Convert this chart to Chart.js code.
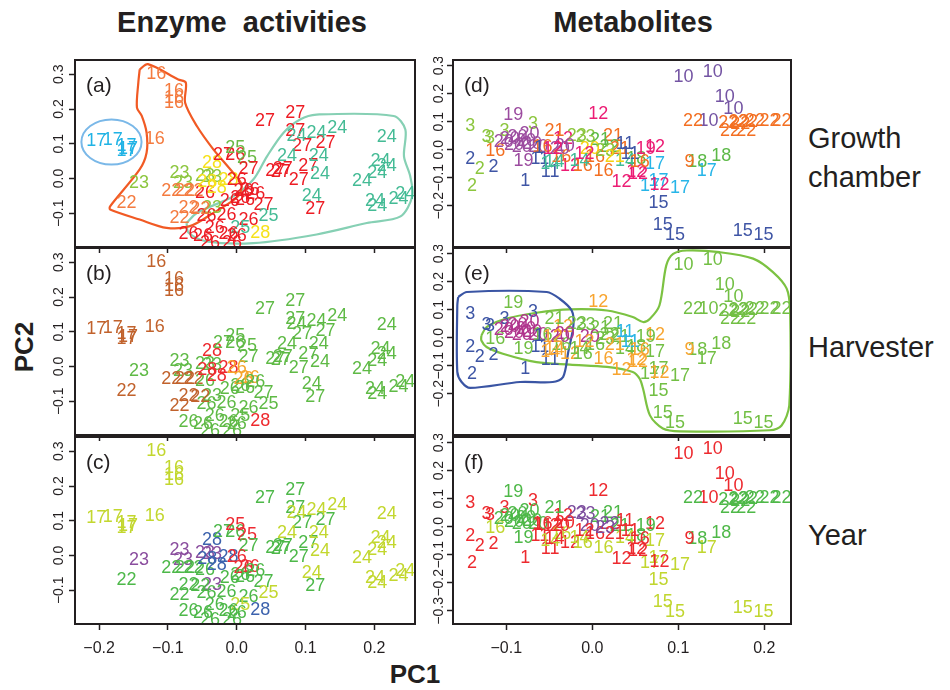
<!DOCTYPE html>
<html>
<head>
<meta charset="utf-8">
<script src="https://cdn.jsdelivr.net/npm/chart.js@4.4.1/dist/chart.umd.min.js"></script>
<style>
  body { margin: 0; width: 950px; height: 690px; background: #fff; position: relative; overflow: hidden;
         font-family: 'Liberation Sans', Arial, sans-serif; color: #231f20; }
  canvas { position: absolute; }
  .lbl { position: absolute; white-space: pre; line-height: 1; }
  .title { font-weight: bold; font-size: 29px; width: 400px; text-align: center; }
  .side { font-size: 29px; left: 808px; }
  .axt { font-weight: bold; font-size: 26px; }
</style>
</head>
<body>
<div class="lbl title" style="left:42px; top:8px;">Enzyme  activities</div>
<div class="lbl title" style="left:433px; top:8px;">Metabolites</div>
<div class="lbl side" style="top:124px;">Growth</div>
<div class="lbl side" style="top:163px;">chamber</div>
<div class="lbl side" style="top:333px;">Harvester</div>
<div class="lbl side" style="top:521px;">Year</div>
<div class="lbl axt" style="left:24px; top:347px; transform: translate(-50%,-50%) rotate(-90deg);">PC2</div>
<div class="lbl axt" style="left:415px; top:674px; transform: translate(-50%,-50%);">PC1</div>

<script>
// ---- axis ticks ----
const enzXTicks = [-0.2, -0.1, 0.0, 0.1, 0.2];
const enzYTicks = [-0.1, 0.0, 0.1, 0.2, 0.3];
const metXTicks = [-0.1, 0.0, 0.1, 0.2];
const metYTicks = [-0.2, -0.1, 0.0, 0.1, 0.2, 0.3];
const metYTicksLow = [-0.3, -0.2, -0.1, 0.0, 0.1, 0.2, 0.3];

// ---- enzyme activities PCA scores (same points in a, b, c) ----
const enzLab = ['16','16','16','16','16','17','17','17','17','17',
                '23','22','23','23','23','23','22','22','22','26',
                '28','28','28','28','27','26','25','25','27','27',
                '27','27','26','26','26','27','22','22','23','26',
                '26','26','25','26','25','26','26','26','26','28',
                '26','26','27','27','27','27','27','27','27','27',
                '24','24','24','24','24','24','24','24','24','24',
                '24','24','24','24','24','24','26','26','26','26','22'];
const enzX = [-0.117,-0.091,-0.091,-0.091,-0.119,-0.204,-0.180,-0.160,-0.160,-0.158,
              -0.142,-0.160,-0.083,-0.078,-0.046,-0.036,-0.095,-0.075,-0.063,-0.046,
              -0.036,-0.029,-0.012,-0.043,-0.020,-0.002,0.015,-0.002,0.017,0.056,
              0.067,0.064,0.019,0.005,-0.010,0.039,-0.070,-0.083,-0.036,-0.044,
              -0.015,0.017,0.046,-0.032,0.005,-0.070,-0.049,-0.012,0.000,0.034,
              -0.039,-0.007,0.041,0.085,0.085,0.095,0.129,0.104,0.090,0.114,
              0.146,0.116,0.087,0.073,0.119,0.121,0.109,0.218,0.209,0.218,
              0.204,0.182,0.201,0.204,0.235,0.245,0.000,0.010,0.012,0.027,-0.053];
const enzY = [0.300,0.252,0.231,0.216,0.114,0.107,0.112,0.093,0.079,0.086,
              -0.012,-0.070,0.016,-0.012,0.007,0.003,-0.037,-0.037,-0.037,-0.041,
              0.045,-0.027,-0.003,-0.009,0.069,0.069,0.060,0.088,0.026,0.021,
              0.026,0.020,-0.032,-0.056,-0.065,-0.075,-0.084,-0.113,-0.084,-0.109,
              -0.104,-0.118,-0.109,-0.142,-0.142,-0.161,-0.166,-0.161,-0.166,-0.156,
              -0.185,-0.185,0.165,0.189,0.136,0.093,0.103,0.035,-0.003,-0.089,
              0.146,0.132,0.122,0.064,0.064,0.012,-0.051,0.120,0.050,0.035,
              0.016,-0.008,-0.065,-0.080,-0.060,-0.046,-0.003,-0.037,-0.061,-0.046,-0.089];

// colour of each label in panels a, b, c
const enzColA = {'16':'#f47b3f','17':'#20b3e5','22':'#f47b3f','23':'#8cc63e','24':'#44bb95',
                 '25':'#44bb95','26':'#ed1c24','27':'#ed1c24','28':'#f6e11a'};
const enzColB = {'16':'#c1622c','17':'#c1622c','22':'#c1622c','23':'#5fba46','24':'#5fba46',
                 '25':'#5fba46','26':'#5fba46','27':'#5fba46','28':'#ee2a2e'};
const enzColC = {'16':'#c3d72f','17':'#c3d72f','22':'#4db849','23':'#8a4d9e','24':'#c3d72f',
                 '25':'#c3d72f','26':'#4db849','27':'#4db849','28':'#3c62ad'};
// samples that break the label rule
const enzExA = {26:'#6ab945', 27:'#6ab945'};
const enzExB = {32:'#f7a42b', 76:'#f7a42b', 77:'#f7a42b'};
const enzExC = {26:'#ee2a32', 27:'#ee2a32', 32:'#ee2a32', 76:'#ee2a32', 77:'#ee2a32'};

// hulls in panel (a)
const hullA16X = [-0.141,-0.129,-0.085,-0.074,-0.075,-0.058,-0.034,-0.005,0.007,0.002,-0.034,-0.068,
                  -0.102,-0.141,-0.184,-0.184,-0.141,-0.131,-0.131,-0.138,-0.145,-0.143,-0.141];
const hullA16Y = [0.314,0.329,0.285,0.276,0.218,0.151,0.084,0.016,-0.017,-0.051,-0.099,-0.137,
                  -0.142,-0.118,-0.089,-0.080,0.026,0.074,0.132,0.180,0.204,0.276,0.314];
const hullA24X = [-0.073,-0.058,-0.005,0.024,0.044,0.068,0.092,0.116,0.228,0.245,0.243,0.252,
                  0.255,0.238,0.189,0.116,0.024,-0.044,-0.070,-0.073];
const hullA24Y = [-0.128,-0.099,-0.051,-0.003,0.064,0.132,0.170,0.184,0.180,0.141,0.064,0.007,
                  -0.051,-0.109,-0.128,-0.161,-0.186,-0.181,-0.156,-0.128];
const ellA17 = [-0.182, 0.105, 0.0437, 0.065]; // centre x, centre y, radius x, radius y

// ---- metabolite PCA scores (same points in d, e, f) ----
const metLab = ['10','10','10','10','10','22','22','22','22','22',
                '22','22','22','22','22','15','15','15','15','15',
                '17','17','17','17','17','18','18','9','12','12',
                '12','12','12','12','12','12','3','19','3','3',
                '3','3','16','2','2','2','2','1','11','11',
                '19','20','20','20','20','20','20','20','20','20',
                '21','21','23','23','20','14','16','16','16','18',
                '21','22','21','11','14','16','19','20','23','21',
                '11','16','14','12','20','16','12','14','1'];
const metX = [0.106,0.140,0.154,0.164,0.135,0.117,0.158,0.170,0.181,0.189,
              0.160,0.179,0.206,0.220,0.172,0.077,0.082,0.096,0.175,0.199,
              0.133,0.102,0.067,0.077,0.073,0.150,0.122,0.113,0.007,0.034,
              0.051,0.078,0.073,0.053,-0.026,-0.034,-0.142,-0.092,-0.069,-0.123,
              -0.119,-0.102,-0.113,-0.142,-0.131,-0.115,-0.140,-0.078,-0.049,-0.061,
              -0.080,-0.096,-0.087,-0.077,-0.091,-0.070,-0.103,-0.082,-0.063,-0.073,
              -0.044,0.024,-0.018,-0.008,-0.032,-0.049,-0.036,-0.011,0.013,0.051,
              0.009,0.020,0.032,0.038,0.038,0.003,0.062,-0.003,0.015,0.026,
              0.044,0.055,-0.015,-0.009,-0.038,-0.058,-0.046,-0.044,-0.062];
const metY = [0.260,0.278,0.188,0.146,0.104,0.101,0.096,0.099,0.099,0.101,
              0.065,0.065,0.104,0.101,0.092,-0.189,-0.267,-0.303,-0.291,-0.303,
              -0.076,-0.135,-0.129,-0.112,-0.051,-0.022,-0.045,-0.045,0.128,-0.117,
              -0.081,-0.127,0.009,-0.087,-0.058,0.038,0.086,0.122,0.092,0.045,
              0.042,0.068,-0.004,-0.033,-0.069,-0.063,-0.129,-0.112,-0.081,-0.033,
              -0.040,0.038,0.046,0.031,0.017,0.020,0.028,0.010,0.010,0.056,
              0.068,0.050,0.050,0.046,0.014,-0.051,-0.027,-0.058,-0.076,-0.033,
              0.035,0.010,0.003,0.020,-0.041,-0.026,0.003,0.003,-0.005,-0.026,
              -0.015,-0.044,-0.041,-0.015,0.003,0.009,0.003,-0.044,0.005];

const metColD = {'1':'#3f55a5','2':'#3f55a5','3':'#8cc63e','9':'#f36f21','10':'#7454a3','11':'#3f55a5',
                 '12':'#ec1c74','14':'#40bc97','15':'#3f55a5','16':'#f36f21','17':'#27b5e8','18':'#5cb947',
                 '19':'#9b4b9f','20':'#9b4b9f','21':'#f36f21','22':'#f36f21','23':'#8cc63e'};
const metColE = {'1':'#3d55a5','2':'#3d55a5','3':'#3d55a5','9':'#f8a530','10':'#72bf44','11':'#3d55a5',
                 '12':'#f8a530','14':'#72bf44','15':'#72bf44','16':'#72bf44','17':'#72bf44','18':'#72bf44',
                 '19':'#72bf44','20':'#b0358d','21':'#72bf44','22':'#72bf44','23':'#72bf44'};
const metColF = {'1':'#ed2a2f','2':'#ed2a2f','3':'#ed2a2f','9':'#ed2a2f','10':'#ed2a2f','11':'#ed2a2f',
                 '12':'#ed2a2f','14':'#c1d62f','15':'#c1d62f','16':'#c1d62f','17':'#c1d62f','18':'#4eb848',
                 '19':'#4eb848','20':'#4eb848','21':'#4eb848','22':'#4eb848','23':'#7c4d9e'};
const metExD = {44:'#8cc63e', 46:'#8cc63e', 70:'#5cb947', 71:'#5cb947', 76:'#ec1c74', 77:'#f5d20f', 79:'#f5d20f'};
const metExE = {65:'#f8a530', 68:'#f8a530', 73:'#2bb5e5', 79:'#f8a530', 80:'#2bb5e5', 81:'#f8a530', 86:'#f8a530', 87:'#f8a530'};
const metExF = {64:'#ed2a2f', 71:'#7c4d9e', 75:'#ed2a2f', 77:'#7c4d9e', 79:'#ed2a2f', 81:'#ed2a2f',
                83:'#ed2a2f', 84:'#ed2a2f', 85:'#ed2a2f', 87:'#ed2a2f'};

// hulls in panel (e)
const hullE1X = [-0.156,-0.146,-0.053,-0.038,-0.024,-0.022,-0.028,-0.034,-0.046,-0.084,-0.142,-0.152,-0.157,-0.157,-0.156];
const hullE1Y = [0.145,0.163,0.163,0.139,0.097,0.044,-0.051,-0.140,-0.158,-0.158,-0.179,-0.158,-0.122,0.115,0.145];
const hullE2X = [-0.129,-0.123,-0.100,-0.065,-0.026,0.017,0.047,0.059,0.067,0.078,0.086,0.094,0.110,0.148,0.187,
                 0.210,0.226,0.230,0.229,0.220,0.206,0.102,0.082,0.067,0.059,0.055,0.047,0.017,-0.026,-0.065,
                 -0.104,-0.123,-0.129,-0.129];
const hullE2Y = [0.008,0.038,0.068,0.089,0.101,0.097,0.074,0.056,0.068,0.115,0.258,0.299,0.311,0.305,0.282,
                 0.234,0.175,0.092,-0.241,-0.313,-0.330,-0.334,-0.324,-0.277,-0.182,-0.146,-0.122,-0.104,-0.096,-0.087,
                 -0.057,-0.033,-0.010,0.008];

// ---- drawing helpers ----
const INK = '#231f20';
const tickFont = "'Liberation Sans', Arial, sans-serif";
const fmt = v => (v < -1e-9 ? '\u2212' : '') + Math.abs(v).toFixed(1);

function colours(labels, map, extra) {
    return labels.map((l, i) => extra[i] || map[l]);
}
function pairs(xs, ys) {
    return xs.map((x, i) => ({ x: x, y: ys[i] }));
}

// draws the sample numbers, ellipses, frame, panel tag and rotated y tick labels
const panelDecor = {
    id: 'panelDecor',
    afterDatasetsDraw(chart, args, opts) {
        const ctx = chart.ctx, a = chart.chartArea;
        const sx = chart.scales.x, sy = chart.scales.y;
        ctx.save();
        ctx.beginPath();
        ctx.rect(a.left, a.top, a.right - a.left, a.bottom - a.top);
        ctx.clip();
        (opts.ellipses || []).forEach(e => {
            const cx = sx.getPixelForValue(e.v[0]), cy = sy.getPixelForValue(e.v[1]);
            const rx = Math.abs(sx.getPixelForValue(e.v[0] + e.v[2]) - cx);
            const ry = Math.abs(sy.getPixelForValue(e.v[1] + e.v[3]) - cy);
            ctx.beginPath();
            ctx.ellipse(cx, cy, rx, ry, 0, 0, Math.PI * 2);
            ctx.strokeStyle = e.color;
            ctx.lineWidth = 2;
            ctx.stroke();
        });
        ctx.font = "18px 'Liberation Sans', Arial, sans-serif";
        ctx.textAlign = 'center';
        ctx.textBaseline = 'middle';
        chart.data.datasets.forEach((ds, di) => {
            if (!ds.texts) return;
            chart.getDatasetMeta(di).data.forEach((el, i) => {
                ctx.fillStyle = ds.textColors[i];
                ctx.fillText(ds.texts[i], el.x, el.y);
            });
        });
        ctx.restore();
    },
    afterDraw(chart, args, opts) {
        const ctx = chart.ctx, a = chart.chartArea, sy = chart.scales.y;
        ctx.save();
        ctx.strokeStyle = INK;
        ctx.lineWidth = 2;
        ctx.strokeRect(a.left, a.top, a.right - a.left, a.bottom - a.top);
        ctx.fillStyle = INK;
        ctx.font = "21px 'Liberation Sans', Arial, sans-serif";
        ctx.textAlign = 'left';
        ctx.textBaseline = 'middle';
        ctx.fillText(opts.tag, a.left + 11, a.top + 26);
        ctx.font = '14px ' + tickFont;
        ctx.textAlign = 'center';
        sy.ticks.forEach(t => {
            const py = sy.getPixelForValue(t.value);
            ctx.save();
            ctx.translate(a.left - opts.yLabelGap, py);
            ctx.rotate(-Math.PI / 2);
            ctx.fillText(fmt(t.value), 0, 0);
            ctx.restore();
        });
        ctx.restore();
    }
};

function makePanel(p) {
    const padT = 3, padR = 12;
    const cv = document.createElement('canvas');
    cv.width = p.yW + p.w + padR;
    cv.height = padT + p.h + p.xH;
    cv.style.left = (p.left - p.yW) + 'px';
    cv.style.top = (p.top - padT) + 'px';
    document.body.appendChild(cv);

    const datasets = (p.hulls || []).map(h => ({
        data: pairs(h.xs, h.ys), showLine: true, pointRadius: 0, borderColor: h.color,
        borderWidth: 2.2, tension: 0.3, fill: false
    }));
    datasets.push({
        data: pairs(p.xs, p.ys), pointRadius: 0, pointHoverRadius: 0,
        texts: p.labels, textColors: p.colors
    });

    const tickGrid = { display: true, drawOnChartArea: false, drawTicks: true, tickLength: 6,
                       tickWidth: 1.5, tickColor: INK };
    new Chart(cv, {
        type: 'scatter',
        data: { datasets: datasets },
        options: {
            responsive: false,
            animation: false,
            devicePixelRatio: 1,
            layout: { padding: { top: padT, right: padR, left: 0, bottom: 0 } },
            plugins: {
                legend: { display: false },
                tooltip: { enabled: false },
                panelDecor: { tag: p.tag, ellipses: p.ellipses, yLabelGap: p.yLabelGap }
            },
            scales: {
                x: {
                    type: 'linear', min: p.xMin, max: p.xMax,
                    afterBuildTicks: s => { s.ticks = p.xTicks.map(v => ({ value: v })); },
                    afterFit: s => { s.height = p.xH; },
                    grid: tickGrid,
                    border: { display: false },
                    ticks: { display: p.showX, padding: 9, autoSkip: false, maxRotation: 0,
                             color: INK, font: { family: tickFont, size: 16 }, callback: v => fmt(v) }
                },
                y: {
                    type: 'linear', min: p.yMin, max: p.yMax,
                    afterBuildTicks: s => { s.ticks = p.yTicks.map(v => ({ value: v })); },
                    afterFit: s => { s.width = p.yW; },
                    grid: tickGrid,
                    border: { display: false },
                    ticks: { display: false }
                }
            }
        },
        plugins: [panelDecor]
    });
}

const enzBase = { left: 75, w: 340, h: 187, yW: 75, yLabelGap: 16,
                  xMin: -0.235, xMax: 0.259, yMin: -0.197, yMax: 0.341,
                  xTicks: enzXTicks, yTicks: enzYTicks, xs: enzX, ys: enzY, labels: enzLab };
const metBase = { left: 453, w: 338, h: 187, yW: 33, yLabelGap: 14,
                  xMin: -0.162, xMax: 0.231, yMin: -0.347, yMax: 0.32,
                  xTicks: metXTicks, xs: metX, ys: metY, labels: metLab };

makePanel(Object.assign({}, enzBase, { tag: '(a)', top: 60, xH: 8, showX: false,
    colors: colours(enzLab, enzColA, enzExA),
    hulls: [{ xs: hullA16X, ys: hullA16Y, color: '#f15a24' },
            { xs: hullA24X, ys: hullA24Y, color: '#86d0b4' }],
    ellipses: [{ v: ellA17, color: '#7ab8e8' }] }));
makePanel(Object.assign({}, enzBase, { tag: '(b)', top: 248, xH: 8, showX: false,
    colors: colours(enzLab, enzColB, enzExB) }));
makePanel(Object.assign({}, enzBase, { tag: '(c)', top: 437, xH: 36, showX: true,
    colors: colours(enzLab, enzColC, enzExC) }));

makePanel(Object.assign({}, metBase, { tag: '(d)', top: 60, xH: 8, showX: false, yTicks: metYTicks,
    colors: colours(metLab, metColD, metExD) }));
makePanel(Object.assign({}, metBase, { tag: '(e)', top: 248, xH: 8, showX: false, yTicks: metYTicks,
    colors: colours(metLab, metColE, metExE),
    hulls: [{ xs: hullE1X, ys: hullE1Y, color: '#3a55a4' },
            { xs: hullE2X, ys: hullE2Y, color: '#7cc242' }] }));
makePanel(Object.assign({}, metBase, { tag: '(f)', top: 437, xH: 36, showX: true, yTicks: metYTicksLow,
    colors: colours(metLab, metColF, metExF) }));
</script>
</body>
</html>
